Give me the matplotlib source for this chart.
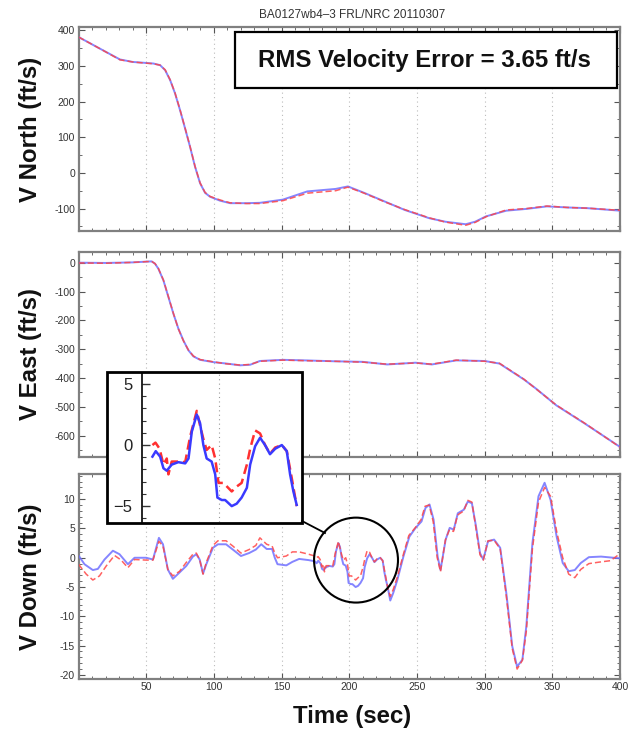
import matplotlib
matplotlib.use("Agg")
import matplotlib.pyplot as plt
from matplotlib.ticker import MultipleLocator, FixedLocator, FixedFormatter
from matplotlib.patches import Rectangle, Ellipse
from matplotlib.lines import Line2D

plt.rcParams['font.family'] = ['Liberation Sans', 'DejaVu Sans']
plt.rcParams['axes.unicode_minus'] = False

# ---------------- data ----------------
title = "BA0127wb4\u20133 FRL/NRC 20110307"
rms_text = "RMS Velocity Error = 3.65 ft/s"
ylabels = ["V North (ft/s)", "V East (ft/s)", "V Down (ft/s)"]
xlabel = "Time (sec)"

north_t = [0, 15, 30.6, 40, 45.5, 55.3, 60.3, 64, 67.7, 71.3, 75, 78.7, 82.4, 86.1, 89.8, 93.5, 97.2,
           104.6, 112, 124.3, 134, 151, 169, 190, 199, 211, 226, 241, 259, 271, 286, 293, 301, 316,
           331, 346, 361, 376, 400]
north_blue = [381, 350, 318, 311, 309.5, 306.6, 302, 288, 260, 223, 176, 125, 73, 17, -29, -56, -67,
              -78, -85, -85, -84, -75, -52, -45, -38, -56, -80, -104, -127, -137, -144, -137, -122, -106,
              -101, -94, -97, -99, -106]
north_red = [381, 350, 317, 311, 309, 306, 302, 289, 261, 224, 177, 126, 74, 18, -28, -55, -66,
             -76, -84, -86, -86, -78, -57, -50, -40, -57, -81, -103, -126, -138, -147, -139, -123, -104,
             -100, -93, -97, -99, -105]

east_t = [0, 20, 40, 54, 56.5, 59, 62.7, 66.4, 70.1, 73.8, 77.5, 81.2, 84.9, 89.8, 99.7, 109.5, 119.4,
          126.8, 134, 151, 168, 189, 210, 228, 249, 261, 279, 300, 311, 329, 338, 353, 374, 400]
east_blue = [0, -1, 1, 4.5, -3.5, -21, -61, -119, -177, -229, -270, -304, -325, -337, -345, -350, -356,
             -354, -341, -337, -339, -342, -344, -353, -347, -353, -339, -341, -350, -405, -437, -495,
             -558, -639]
east_red = [-1, -2, 1, 4.5, -3, -20, -60, -118, -176, -230, -271, -303, -324, -336, -344, -351, -355,
            -353, -342, -338, -340, -342, -345, -352, -348, -352, -338, -342, -349, -404, -438, -494,
            -557, -640]

down_t_blue = [0, 4.4, 10.6, 14.3, 19.2, 25.4, 30.3, 36.5, 41.4, 50, 55, 59.4, 62.4, 66, 69.7, 74.7,
               79.6, 84.5, 87, 89.5, 92, 94.4, 99.3, 103, 109, 114, 120, 126, 131, 135, 139, 143, 145,
               147, 153.5, 158, 163, 170, 174.5, 175.9, 177.1, 178.7, 179.9, 181.1, 182.9, 185.3, 187.8,
               189, 190.2, 192, 193.2, 194.4, 195.6, 197.4, 198.7, 199.5, 201.1, 202.3, 204.7, 206.5,
               208.3, 210.2, 211.4, 213.2, 215, 216.8, 218.6, 220.5, 222.9, 224.7, 225.9, 227.1, 228.3,
               230.3, 232.5, 235.5, 240, 244.4, 249, 253.4, 256.3, 259.3, 262.3, 265.3, 267.4, 271.2,
               274.2, 277.2, 280.2, 284.6, 287.6, 290.6, 293.6, 296.6, 299, 302.5, 307, 311.5, 316,
               320.4, 324, 327.9, 330.8, 335.3, 339.8, 344.3, 348.7, 353.2, 357.7, 362.1, 366.6, 371,
               377, 386, 400]
down_blue = [0.4, -1.1, -2.1, -1.9, -0.3, 1.2, 0.6, -1.1, 0.0, 0.0, -0.3, 3.4, 2.3, -2.0, -3.6, -2.5,
             -1.4, 0.2, 0.6, -0.3, -2.7, -1.1, 1.7, 2.3, 2.3, 1.4, 0.3, 0.8, 1.4, 2.3, 1.5, 1.5, 0.0,
             -1.1, -1.3, -0.7, -0.2, -0.4, -0.6, -0.95, -0.5, -0.95, -1.9, -2.1, -1.6, -1.4, -1.5,
             -1.1, 1.1, 2.5, 1.8, 0.0, -1.1, -1.35, -2.4, -4.3, -4.5, -4.5, -5.0, -4.8,
             -4.3, -3.5, -1.6, -0.1, 0.6, 0.0, -0.75, -0.3, 0.0, -0.5, -2.4, -3.8, -4.9,
             -7.3, -6.0, -3.8, 0.2, 3.6, 5.1, 6.2, 8.5, 9.1, 6.5, 0.2, -2.1, 3.1,
             5.1, 4.8, 7.6, 8.2, 9.6, 9.3, 5.4, 0.8, -0.3, 2.8, 3.1, 1.7, -6.0,
             -15.1, -18.6, -17.4, -11.7, 2.5, 10.5, 12.8, 9.9, 3.6, -0.9, -2.3, -2.1, -0.9,
             0.1, 0.2, -0.1]

down_t_red = [0, 5.7, 10.6, 15.5, 20.5, 26.6, 31.5, 36.5, 41.4, 50, 55, 59.4, 62.4, 66, 69.7, 74.7,
              79.6, 84.5, 87, 89.5, 92, 94.4, 99.3, 103, 109, 114, 120, 126, 131, 134, 139, 143, 145,
              147, 153.5, 158, 163, 170, 174.5, 175.9, 177, 178.5, 179.9, 181.1, 181.7, 182.9, 185.3,
              187.8, 189.6, 192, 193.2, 194.4, 195.6, 197.4, 198.7, 199.9, 201.7, 204.7, 206.5, 208.3,
              210.2, 211.4, 213.2, 215, 216.8, 218.6, 220.5, 222.9, 224.7, 226.5, 228.3, 230.3, 232.5,
              235.5, 240, 244, 249, 253, 256, 259, 262, 265, 267.4, 271, 274, 277, 280, 284.6, 287.6,
              290.6, 293.6, 296.6, 299, 302.5, 307, 311.5, 316, 320.4, 324, 327.9, 330.8, 335.3,
              339.8, 344.3, 348.7, 353.2, 357.7, 362.1, 366.6, 371, 377, 386, 393, 400]
down_red = [-1.1, -2.8, -3.8, -3.1, -1.4, 0.4, -0.4, -1.7, -0.3, -0.4, -0.4, 2.8, 2.0, -2.0, -3.1, -2.3,
            -0.8, 0.6, 0.8, -0.3, -2.8, -0.8, 2.1, 2.9, 2.9, 2.0, 0.8, 1.4, 2.1, 3.4, 2.3, 2.0, 0.8,
            0.0, 0.3, 1.0, 1.0, 0.6, 0.3, 0.0, 0.2, -0.3, -1.6, -1.1, -2.4, -1.35, -1.35,
            -1.4, 0.7, 2.8, 1.6, 0.5, -0.4, 0.0, -1.1, -3.1, -3.1, -3.8, -3.4, -3.1,
            -1.6, -0.3, 1.2, 0.95, 0.0, -0.7, -0.2, 0.0, -0.5, -2.7, -5.0, -6.6, -5.4,
            -3.3, 0.6, 3.8, 5.2, 6.5, 8.8, 9.0, 6.2, 0.0, -2.4, 3.0, 4.8, 4.5, 7.3, 8.0, 9.8,
            9.5, 5.0, 0.5, -0.4, 2.9, 3.0, 1.5, -6.5, -15.5, -19.0, -17.5, -12.5, 1.5,
            9.5, 12.0, 10.5, 4.5, 0.0, -2.8, -3.4, -2.0, -1.0, -0.7, -0.5, 0.7]

north_yticks = [-100, 0, 100, 200, 300, 400]
east_yticks = [-600, -500, -400, -300, -200, -100, 0]
down_yticks = [-20, -15, -10, -5, 0, 5, 10]
x_ticks = [50, 100, 150, 200, 250, 300, 350, 400]
inset_range = (175.5, 228.5)
inset_yticks = [-5, 0, 5]
inset_yticklabels = ["\u22125", "0", "5"]

# ---------------- figure ----------------
W, H = 632, 731
fig = plt.figure(figsize=(W / 100, H / 100), dpi=100)

def fx(px):
    return px / W

def fy(py):
    return 1 - py / H

left = fx(78.5)
width = fx(620) - left
panels = [(27, 231), (252, 457), (474, 679)]
axes = []
for (top, bot) in panels:
    ax = fig.add_axes([left, fy(bot), width, (bot - top) / H])
    axes.append(ax)

BLUE = '#7070ff'
RED = '#ff4545'

series = [
    (north_t, north_blue, north_t, north_red, north_yticks, (-163, 409), 50),
    (east_t, east_blue, east_t, east_red, east_yticks, (-674, 37), 50),
    (down_t_blue, down_blue, down_t_red, down_red, down_yticks, (-20.7, 14.3), 1),
]

for i, (ax, (tb, yb, tr, yr, yt, yl, ymin)) in enumerate(zip(axes, series)):
    ax.plot(tb, yb, color=BLUE, lw=1.4, alpha=0.85, zorder=3)
    ax.plot(tr, yr, color=RED, lw=1.1, dashes=(4, 2), alpha=0.85, zorder=4)
    ax.set_xlim(0, 400)
    ax.set_ylim(*yl)
    ax.set_yticks(yt)
    ax.set_xticks(x_ticks)
    ax.xaxis.set_minor_locator(MultipleLocator(10))
    ax.yaxis.set_minor_locator(MultipleLocator(ymin))
    ax.grid(axis='x', which='major', color='#bbbbbb', ls=(0, (1, 3)), lw=0.8)
    ax.tick_params(which='both', direction='in', top=True, right=True, colors='#555555',
                   labelcolor='#333333', labelsize=7.5, pad=2.5)
    ax.tick_params(which='major', length=4, width=0.8)
    ax.tick_params(which='minor', length=2, width=0.6)
    for sp in ax.spines.values():
        sp.set_color('#808080')
        sp.set_linewidth(1.6)
    if i < 2:
        ax.tick_params(labelbottom=False)
    pos = ax.get_position()
    fig.text(fx(30), (pos.y0 + pos.y1) / 2, ylabels[i], rotation=90, ha='center', va='center',
             fontsize=17.3, fontweight='bold', color='#111111')

# title
fig.text(fx(352), fy(15), title, ha='center', va='center', fontsize=8.5, color='#333333')

# RMS box
axes[0].add_patch(Rectangle((fx(235), fy(88)), fx(617) - fx(235), fy(32) - fy(88),
                            transform=fig.transFigure, fill=True, facecolor='white',
                            edgecolor='black', lw=1.6, zorder=6))
fig.text(fx(424), fy(60), rms_text, ha='center', va='center', fontsize=17.3,
         fontweight='bold', color='#111111', zorder=7)

# x label
fig.text(fx(352), fy(717), xlabel, ha='center', va='center', fontsize=17.3,
         fontweight='bold', color='#111111')

# ellipse highlighting region
axes[2].add_patch(Ellipse((205, -0.4), 62, 14.5, fill=False, edgecolor='black', lw=1.5, zorder=6))

# inset box
box = Rectangle((fx(107), fy(523)), fx(302) - fx(107), fy(372) - fy(523),
                transform=fig.transFigure, facecolor='white', edgecolor='black', lw=2.0, zorder=8)
fig.add_artist(box)
fig.add_artist(Line2D([fx(302), fx(325)], [fy(521), fy(533)], transform=fig.transFigure,
                      color='black', lw=1.3, zorder=8))

iax = fig.add_axes([fx(141.7), fy(522), fx(300) - fx(141.7), fy(373) - fy(522)], zorder=10)
iax.patch.set_alpha(0)
lo, hi = inset_range
ib = [(t, v) for t, v in zip(down_t_blue, down_blue) if lo <= t <= hi]
ir = [(t, v) for t, v in zip(down_t_red, down_red) if lo <= t <= hi]
iax.plot([p[0] for p in ir], [p[1] for p in ir], color='#ff3030', lw=1.8, dashes=(4, 2), zorder=3)
iax.plot([p[0] for p in ib], [p[1] for p in ib], color='#3a3aff', lw=1.8, zorder=4)
iax.set_xlim(172, 229.5)
iax.set_ylim(-6.3, 5.9)
for name, sp in iax.spines.items():
    sp.set_visible(name == 'left')
iax.spines['left'].set_color('black')
iax.spines['left'].set_linewidth(1.2)
iax.yaxis.set_major_locator(FixedLocator(inset_yticks))
iax.yaxis.set_major_formatter(FixedFormatter(inset_yticklabels))
iax.yaxis.set_minor_locator(MultipleLocator(1))
iax.set_xticks([200])
iax.grid(axis='x', color='#999999', ls=(0, (1, 3)), lw=0.8)
iax.tick_params(axis='x', length=0, labelbottom=False)
iax.tick_params(axis='y', which='both', direction='in', colors='#333333', labelcolor='#222222',
                labelsize=12, pad=6.5)
iax.tick_params(axis='y', which='major', length=6, width=1)
iax.tick_params(axis='y', which='minor', length=3, width=0.8)

fig.savefig("out.png", dpi=100)
